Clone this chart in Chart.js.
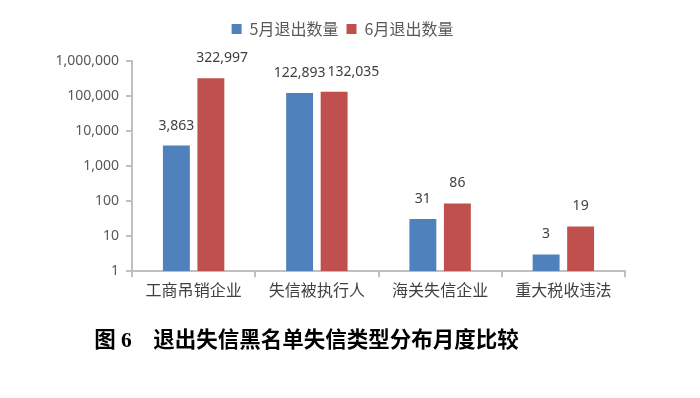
<!DOCTYPE html>
<html>
<head>
<meta charset="utf-8">
<script src="https://cdn.jsdelivr.net/npm/chart.js@4/dist/chart.umd.min.js"></script>
<style>
  html, body { margin: 0; padding: 0; background: #ffffff; }
  #wrap { width: 700px; height: 398px; position: relative; }
</style>
</head>
<body>
<div id="wrap"><canvas id="c" width="700" height="398"></canvas></div>
<script>
const categories = ['工商吊销企业', '失信被执行人', '海关失信企业', '重大税收违法'];
const seriesNames = ['5月退出数量', '6月退出数量'];
const mayValues = [3863, 122893, 31, 3];
const juneValues = [322997, 132035, 86, 19];
const yTicks = [1, 10, 100, 1000, 10000, 100000, 1000000];
const chartTitle = '图 6　退出失信黑名单失信类型分布月度比较';

const NUM_FONT = "'Noto Sans', 'Noto Sans CJK SC', sans-serif";
const CJK_FONT = "'Noto Sans CJK SC', 'Noto Sans', sans-serif";
const fmt = v => Number(v).toLocaleString('en-US');

const shiftPlugin = {
  id: 'shiftBoxes',
  beforeInit(chart) {
    const lg = chart.legend;
    if (lg) {
      const fit = lg.fit;
      lg.fit = function () { fit.call(this); this.height += 14; };
    }
  },
  afterLayout(chart) {
    if (chart.legend) { chart.legend.left += 30; chart.legend.right += 30; }
    if (chart.titleBlock) { chart.titleBlock.left -= 6; chart.titleBlock.right -= 6; }
  }
};

const labelPlugin = {
  id: 'barLabels',
  afterDatasetsDraw(chart) {
    const ctx = chart.ctx;
    ctx.save();
    ctx.font = '14px ' + NUM_FONT;
    ctx.fillStyle = '#404040';
    ctx.textAlign = 'center';
    ctx.textBaseline = 'middle';
    const n = categories.length;
    for (let i = 0; i < n; i++) {
      let prevRight = -Infinity;
      chart.data.datasets.forEach((ds, di) => {
        const el = chart.getDatasetMeta(di).data[i];
        const txt = fmt(ds.data[i]);
        const w = ctx.measureText(txt).width;
        let cx = el.x;
        if (cx - w / 2 < prevRight + 2) cx = prevRight + 2 + w / 2;
        ctx.fillText(txt, cx, el.y - 20);
        prevRight = cx + w / 2;
      });
    }
    ctx.restore();
  }
};

new Chart(document.getElementById('c'), {
  type: 'bar',
  data: {
    labels: categories,
    datasets: [
      { label: seriesNames[0], data: mayValues, backgroundColor: '#4f81bd', categoryPercentage: 0.56, barPercentage: 0.78 },
      { label: seriesNames[1], data: juneValues, backgroundColor: '#c0504d', categoryPercentage: 0.56, barPercentage: 0.78 }
    ]
  },
  options: {
    responsive: false,
    animation: false,
    layout: { padding: { left: 0, right: 75, top: 13, bottom: 0 } },
    plugins: {
      legend: {
        position: 'top',
        labels: {
          boxWidth: 10, boxHeight: 10, padding: 8,
          color: '#595959',
          font: { size: 16, family: CJK_FONT }
        }
      },
      title: {
        display: true,
        position: 'bottom',
        text: chartTitle,
        color: '#000000',
        font: { size: 21.5, weight: 'bold', family: "'Liberation Serif', 'Noto Sans CJK SC', serif" },
        padding: { top: 28, bottom: 44 }
      },
      tooltip: { enabled: false }
    },
    scales: {
      x: {
        type: 'category',
        grid: { display: true, drawOnChartArea: false, drawTicks: true, tickLength: 6, offset: true, color: '#c0c0c0', lineWidth: 2 },
        border: { display: true, color: '#c0c0c0', width: 2 },
        ticks: { color: '#404040', padding: 3, font: { size: 16, family: CJK_FONT }, maxRotation: 0 },
        afterFit(scale) { scale.height = 29; }
      },
      y: {
        type: 'logarithmic',
        min: 1,
        max: 1000000,
        grid: { display: true, drawOnChartArea: false, drawTicks: true, tickLength: 6, color: '#c0c0c0', lineWidth: 2 },
        border: { display: true, color: '#c0c0c0', width: 2 },
        afterBuildTicks(axis) { axis.ticks = yTicks.map(v => ({ value: v })); },
        ticks: {
          color: '#595959',
          padding: 7,
          font: { size: 14, family: NUM_FONT },
          callback: v => fmt(v)
        },
        afterFit(scale) { scale.width = 132; }
      }
    }
  },
  plugins: [shiftPlugin, labelPlugin]
});
</script>
</body>
</html>
